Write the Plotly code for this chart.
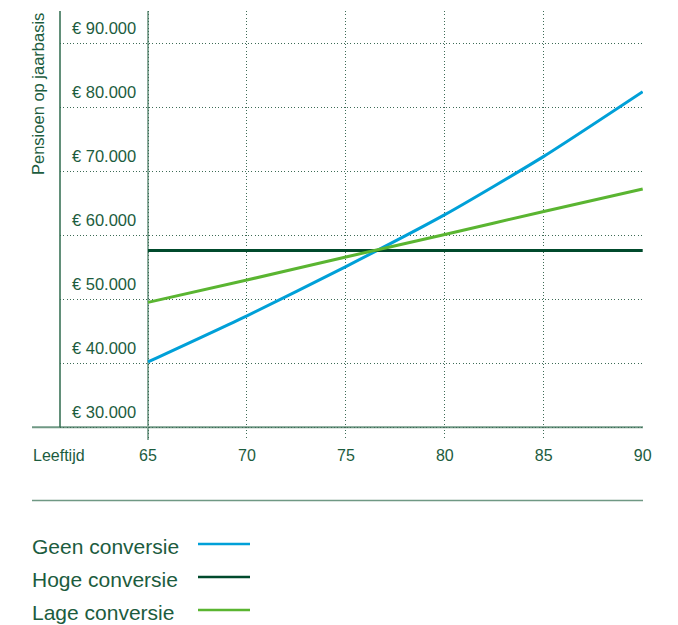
import plotly.graph_objects as go

# Pensioen per leeftijd van ingang, drie conversiescenario's
ages = [65, 70, 75, 80, 85, 90]
geen_conversie = [40200, 47400, 55100, 63200, 72300, 82400]
hoge_conversie = [57600, 57600, 57600, 57600, 57600, 57600]
lage_conversie = [49500, 53000, 56600, 60100, 63700, 67200]

series_names = ["Geen conversie", "Hoge conversie", "Lage conversie"]
series_values = [geen_conversie, hoge_conversie, lage_conversie]
series_colors = ["#00a0d8", "#004a2c", "#5ab531"]

y_ticks = [30000, 40000, 50000, 60000, 70000, 80000, 90000]
y_tick_labels = ["€ 30.000", "€ 40.000", "€ 50.000", "€ 60.000",
                 "€ 70.000", "€ 80.000", "€ 90.000"]
x_ticks = [65, 70, 75, 80, 85, 90]
x_tick_labels = ["65", "70", "75", "80", "85", "90"]

TEXT = "#1c5c3e"
AXIS = "#6f9884"
GRID = "#3d6b56"
FONT = "Liberation Sans, Arial, sans-serif"

W, H = 678, 625
ML, MR, MT, MB = 60, 35, 11, 185
PW = W - ML - MR
PH = H - MT - MB


def px_x(px):
    return (px - ML) / PW


def px_y(py):
    return (H - MB - py) / PH


fig = go.Figure()
for name, vals, col in zip(series_names, series_values, series_colors):
    fig.add_trace(go.Scatter(
        x=ages, y=vals, name=name, mode="lines",
        line=dict(color=col, width=3, shape="spline", smoothing=0.6),
        showlegend=False,
    ))

shapes = [
    # horizontale as bij € 30.000
    dict(type="line", xref="paper", yref="y", x0=px_x(32), x1=1,
         y0=30000, y1=30000, line=dict(color=AXIS, width=2), layer="between"),
    # linker verticale lijn
    dict(type="line", xref="paper", yref="y", x0=0, x1=0,
         y0=30000, y1=95000, line=dict(color="#2e6a4c", width=1.5)),
    # verticale lijn bij 65 jaar
    dict(type="line", xref="x", yref="paper", x0=65, x1=65,
         y0=0, y1=1, line=dict(color="#8aab9b", width=2), layer="between"),
    # scheidingslijn boven de legenda
    dict(type="line", xref="paper", yref="paper", x0=px_x(32), x1=1,
         y0=px_y(500.5), y1=px_y(500.5), line=dict(color=AXIS, width=1.5)),
]

annotations = [
    dict(text="Leeftijd", xref="paper", yref="paper", x=px_x(31), y=px_y(455),
         xanchor="left", yanchor="middle", showarrow=False,
         font=dict(family=FONT, size=16, color=TEXT)),
    dict(text="Pensioen op jaarbasis", xref="paper", yref="paper",
         x=px_x(38), y=px_y(11), xanchor="center", yanchor="top",
         textangle=-90, showarrow=False,
         font=dict(family=FONT, size=16.5, color=TEXT)),
]

legend_y = [546, 579, 612]
for name, col, ly in zip(series_names, series_colors, legend_y):
    annotations.append(dict(
        text=name, xref="paper", yref="paper", x=px_x(30), y=px_y(ly),
        xanchor="left", yanchor="middle", showarrow=False,
        font=dict(family=FONT, size=21, color=TEXT)))
    shapes.append(dict(
        type="line", xref="paper", yref="paper", x0=px_x(198), x1=px_x(250),
        y0=px_y(ly - 2), y1=px_y(ly - 2), line=dict(color=col, width=2.5)))

fig.update_layout(
    width=W, height=H,
    margin=dict(l=ML, r=MR, t=MT, b=MB),
    paper_bgcolor="white", plot_bgcolor="white",
    font=dict(family=FONT, color=TEXT),
    shapes=shapes, annotations=annotations,
    hovermode=False,
)

fig.update_xaxes(
    range=[60.553, 90.015], tickvals=x_ticks, ticktext=x_tick_labels,
    showgrid=True, gridcolor=GRID, gridwidth=1, griddash="1px,2.3px",
    showline=False, zeroline=False, ticks="",
    tickfont=dict(family=FONT, size=16, color=TEXT), ticklabelstandoff=4,
)

fig.update_yaxes(
    range=[28017, 95000], tickvals=y_ticks, ticktext=y_tick_labels,
    showgrid=True, gridcolor=GRID, gridwidth=1, griddash="1px,2.3px",
    showline=False, zeroline=False, ticks="",
    ticklabelposition="inside", ticklabelstandoff=9, ticklabelshift=-15,
    tickfont=dict(family=FONT, size=16.5, color=TEXT),
)

fig.write_html("out.html")
